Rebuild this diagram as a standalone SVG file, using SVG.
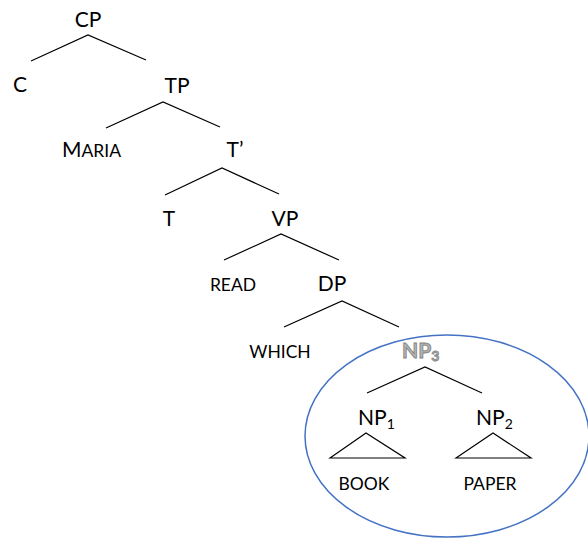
<svg xmlns="http://www.w3.org/2000/svg" width="588" height="539" viewBox="0 0 588 539">
<style>
text{font-family:Lato,"Open Sans","Liberation Sans",sans-serif;fill:#000}
.l{font-size:21px}
.s{font-size:17.5px}
.sub{font-size:14px}
.e{stroke:#000;stroke-width:1.2;fill:none}
.np3{fill:#b3b3b3;stroke:#7f7f7f;stroke-width:0.8;font-weight:bold}
</style>
<rect width="588" height="539" fill="#fff"/>
<g id="connectors">
<path class="e" d="M31,61 L88,35 L146,60"/>
<path class="e" d="M106,128 L163,102 L220,127"/>
<path class="e" d="M165,195 L222,168 L279,194"/>
<path class="e" d="M224,260 L281,234 L339,260"/>
<path class="e" d="M284,327 L342,301 L399,327"/>
<path class="e" d="M367,393 L425,367 L482,393"/>
<path class="e" d="M330,458 L366,433 L405,458 Z"/>
<path class="e" d="M456,458 L493,433 L531,458 Z"/>
</g>
<g id="circle"><ellipse cx="447" cy="436" rx="142" ry="101" fill="none" stroke="#4472C4" stroke-width="1.5"/></g>
<g id="CP"><text class="l" x="88" y="27" text-anchor="middle">CP</text></g>
<g id="C"><text class="l" x="20" y="92" text-anchor="middle">C</text></g>
<g id="TP"><text class="l" x="177" y="93" text-anchor="middle">TP</text></g>
<g id="MARIA"><text class="l" x="62" y="157">M<tspan class="s">ARIA</tspan></text></g>
<g id="Tbar"><text class="l" x="235" y="157" text-anchor="middle">T’</text></g>
<g id="T"><text class="l" x="169" y="226" text-anchor="middle">T</text></g>
<g id="VP"><text class="l" x="285" y="226" text-anchor="middle">VP</text></g>
<g id="READ"><text class="s" x="233" y="291" text-anchor="middle">READ</text></g>
<g id="DP"><text class="l" x="332" y="291" text-anchor="middle">DP</text></g>
<g id="WHICH"><text class="s" x="280" y="358" text-anchor="middle">WHICH</text></g>
<g id="NP3"><text class="l np3" x="402" y="358">NP<tspan class="sub" dy="3">3</tspan></text></g>
<g id="NP1"><text class="l" x="358" y="425">NP<tspan class="sub" dy="4">1</tspan></text></g>
<g id="NP2"><text class="l" x="476" y="425">NP<tspan class="sub" dy="4">2</tspan></text></g>
<g id="BOOK"><text class="s" x="364" y="490" text-anchor="middle">BOOK</text></g>
<g id="PAPER"><text class="s" x="490" y="490" text-anchor="middle">PAPER</text></g>
</svg>
